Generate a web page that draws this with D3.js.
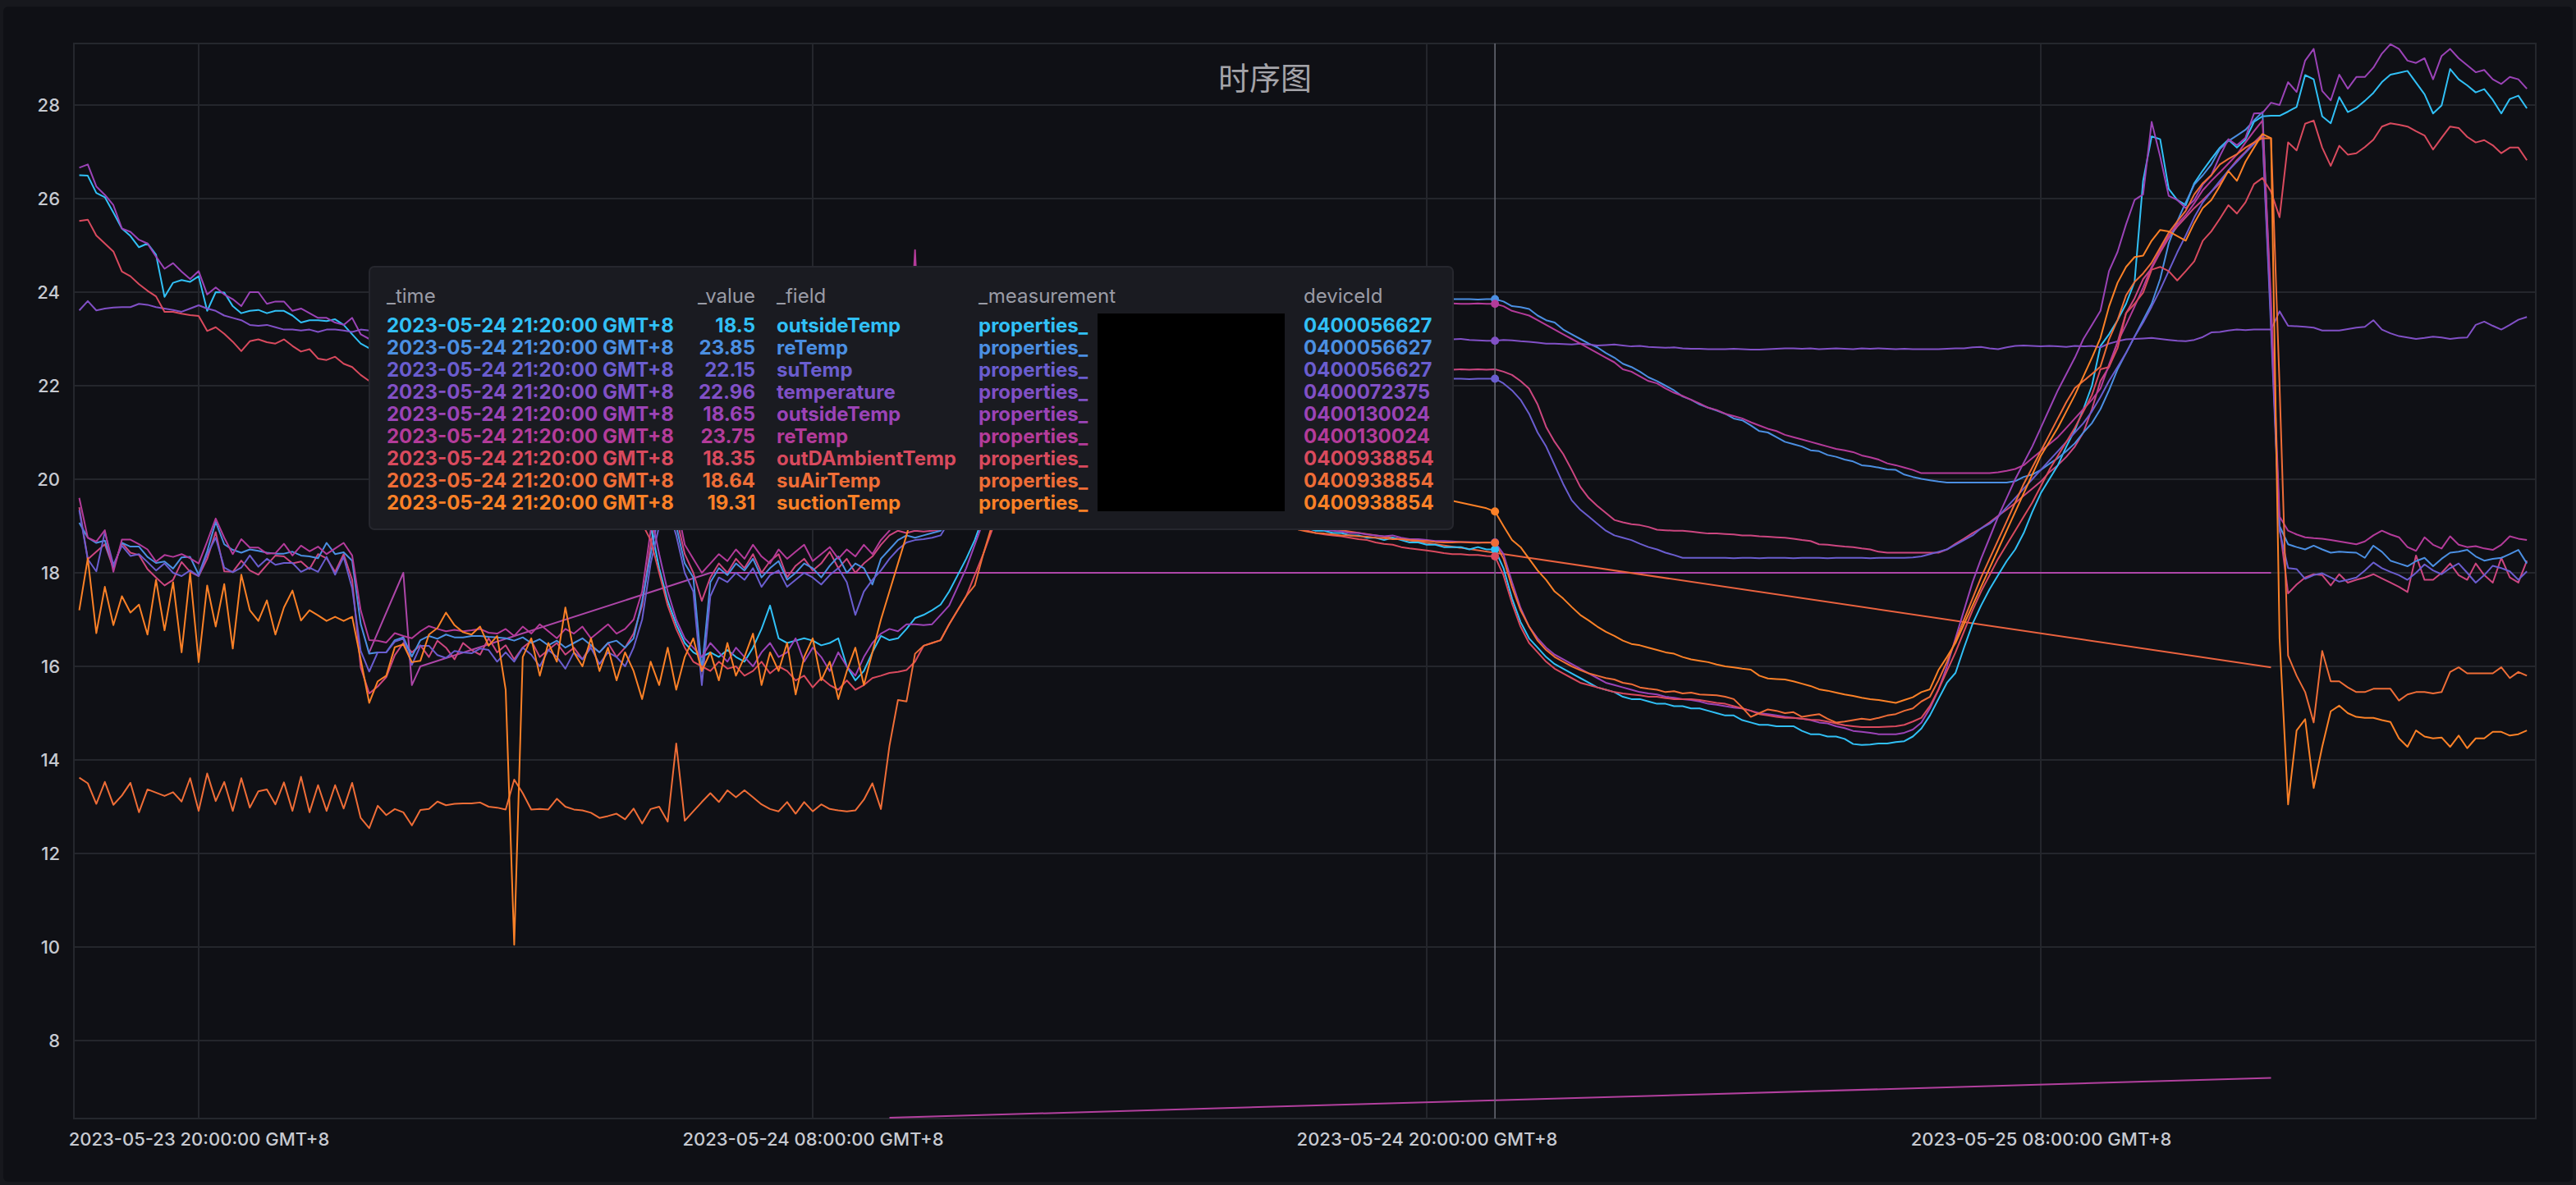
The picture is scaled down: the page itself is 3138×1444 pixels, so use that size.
<!DOCTYPE html>
<html><head><meta charset="utf-8">
<script src="https://cdn.jsdelivr.net/npm/d3@7"></script>
<style>
html,body{margin:0;padding:0;background:#17181d;}
svg{display:block}
</style></head><body>
<svg id="chart" width="3138" height="1444"></svg>
<script>
// ---------- data ----------
const chartTitle = "时序图";
const startTime = "2023-05-23T17:40:00+08:00";
const stepMinutes = 10;
const pointCount = 288;
const yTicks = [8, 10, 12, 14, 16, 18, 20, 22, 24, 26, 28];
const xTickTimes = ["2023-05-23T20:00:00+08:00", "2023-05-24T08:00:00+08:00", "2023-05-24T20:00:00+08:00", "2023-05-25T08:00:00+08:00"];
const xTickLabels = ["2023-05-23 20:00:00 GMT+8", "2023-05-24 08:00:00 GMT+8", "2023-05-24 20:00:00 GMT+8", "2023-05-25 08:00:00 GMT+8"];
const hoverIndex = 166;

// outsideTemp 0400056627
const outsideTemp_56627 = [
26.5,26.49,26.12,26.03,25.7,25.36,25.2,24.96,25.04,24.8,23.9,24.2,24.26,24.22,24.34,23.6,24.0,23.99,23.7,23.55,23.6,23.62,23.55,23.6,23.6,23.5,23.35,23.4,23.4,23.38,23.42,23.3,23.1,22.9,
22.8,22.75,22.6,22.55,22.4,22.35,22.2,22.15,22.0,21.9,21.85,21.7,21.6,21.55,21.4,21.3,21.25,21.1,21.0,20.95,20.8,20.7,20.65,20.5,20.45,20.3,20.2,20.15,20.0,19.95,19.8,19.7,19.6,
19.0,18.1,17.4,16.9,16.5,16.3,16.2,16.3,16.2,16.35,16.2,16.1,16.4,16.8,17.3,16.6,16.5,16.55,16.6,16.55,16.45,16.5,16.6,16.0,15.7,15.9,16.3,16.65,16.56,
16.6,16.8,17.03,17.1,17.2,17.32,17.6,17.95,18.3,18.7,19.2,19.7,20.2,20.6,21.0,21.3,21.6,21.9,22.1,22.3,22.5,22.6,22.8,22.9,23.0,23.1,23.1,23.2,23.1,23.0,22.9,22.8,22.6,22.4,22.2,22.0,21.8,21.5,21.2,20.9,20.6,20.3,20.0,19.8,19.6,19.4,19.2,19.05,18.95,18.9,18.9,18.85,18.85,18.8,18.8,18.75,18.75,18.7,18.75,18.7,18.65,18.65,18.6,18.6,18.55,
18.55,18.55,18.5,18.55,18.5,18.5,18.1,17.45,16.95,16.6,16.4,16.2,16.05,15.95,15.85,15.75,15.65,15.55,15.5,15.45,15.35,15.3,15.3,15.25,15.2,15.2,15.15,15.15,15.1,15.1,15.05,
15.0,14.95,14.95,14.85,14.8,14.75,14.75,14.72,14.72,14.72,14.62,14.55,14.55,14.5,14.5,14.45,14.34,14.32,14.33,14.35,14.35,14.38,14.4,14.5,14.67,14.95,
15.3,15.65,15.86,16.4,16.91,17.3,17.65,17.95,18.25,18.5,18.85,19.3,19.7,20.0,20.3,20.7,21.05,21.5,22.0,22.85,23.1,23.4,23.75,24.22,26.38,27.33,27.27,26.21,25.97,25.86,26.33,26.6,26.85,27.09,27.26,27.09,27.26,27.64,27.76,
27.77,27.77,27.86,27.96,28.64,28.55,27.76,27.61,28.17,27.85,27.94,28.09,28.26,28.49,28.65,28.69,28.73,28.48,28.23,27.82,27.99,28.77,28.55,28.42,28.27,28.34,28.11,27.82,28.13,28.2,27.93
];
// reTemp 0400056627
const reTemp_56627 = [
19.07,18.75,18.64,18.69,18.11,18.64,18.56,18.56,18.34,18.21,18.24,18.09,18.33,18.34,17.96,18.46,19.09,18.61,18.49,18.43,18.5,18.47,18.43,18.41,18.41,18.45,18.37,18.35,18.31,18.64,18.4,18.44,18.26,16.91,
16.27,16.3,16.3,16.56,16.62,16.21,16.56,16.65,16.59,16.68,16.62,16.62,16.65,16.65,16.63,16.62,16.6,16.55,16.62,16.5,16.58,16.45,16.55,16.4,16.5,16.6,16.45,16.3,16.5,16.55,16.4,16.6,17.4,
18.4,19.3,19.6,19.0,18.2,17.9,15.9,17.8,18.1,17.95,18.2,18.05,18.3,17.9,18.1,18.25,17.85,18.0,18.2,18.1,17.9,18.15,18.35,18.0,18.2,18.1,17.75,18.3,18.5,
18.7,18.8,18.75,18.8,18.85,18.9,19.2,19.7,20.3,20.9,21.5,22.0,22.4,22.7,23.0,23.2,23.4,23.5,23.6,23.7,23.75,23.8,23.85,23.9,23.92,23.95,23.97,24.0,24.0,24.02,24.0,24.03,24.05,24.03,24.05,24.02,24.0,24.02,23.98,24.0,23.97,23.98,23.95,23.97,23.94,23.95,23.92,23.93,23.9,23.92,23.9,23.91,23.88,23.9,23.88,23.89,23.87,23.88,23.86,23.87,23.85,23.86,23.85,23.86,23.85,
23.85,23.85,23.85,23.84,23.85,23.85,23.8,23.7,23.68,23.64,23.5,23.4,23.35,23.2,23.1,23.0,22.9,22.82,22.7,22.6,22.47,22.4,22.3,22.18,22.1,22.0,21.9,21.77,21.7,21.6,21.53,
21.47,21.4,21.3,21.26,21.15,21.03,21.0,20.9,20.8,20.75,20.7,20.62,20.6,20.52,20.48,20.42,20.38,20.3,20.28,20.25,20.21,20.2,20.1,20.05,20.01,19.98,
19.95,19.93,19.93,19.93,19.93,19.93,19.93,19.93,19.93,19.96,20.05,20.1,20.2,20.33,20.45,20.6,20.77,21.0,21.2,21.5,21.9,22.35,22.7,23.05,23.4,23.75,24.28,25.04,25.51,25.92,26.3,26.5,26.73,27.06,27.23,27.35,27.47,27.67,27.85,
23.5,19.0,18.61,18.55,18.5,18.58,18.5,18.43,18.45,18.44,18.43,18.32,18.58,18.45,18.26,18.2,18.14,18.25,18.32,18.14,18.3,18.43,18.45,18.49,18.35,18.26,18.3,18.32,18.4,18.49,18.2
];
// suTemp 0400056627
const suTemp_56627 = [
19.34,18.29,18.03,18.87,18.17,18.58,18.36,18.4,18.23,18.05,18.2,18.0,17.93,18.05,17.93,18.4,18.75,18.11,18.01,18.11,18.37,18.13,18.3,18.17,18.21,18.21,18.02,18.11,18.02,18.34,17.96,18.34,17.67,16.33,
15.89,16.3,16.3,16.53,16.59,16.03,16.44,16.44,16.24,16.18,16.33,16.3,16.28,16.38,16.35,16.1,16.3,16.1,16.4,16.25,16.0,16.35,16.2,15.95,16.3,16.15,16.4,16.05,16.3,16.2,16.0,16.4,17.0,
18.2,19.0,19.4,18.8,18.0,17.6,15.6,17.5,17.9,17.8,18.0,17.85,18.1,17.7,17.95,18.05,17.7,17.85,18.0,17.9,17.75,17.95,18.1,17.8,17.1,17.6,17.85,18.05,18.3,
18.5,18.65,18.7,18.72,18.75,18.8,19.1,19.6,20.1,20.6,21.0,21.3,21.55,21.75,21.9,22.0,22.1,22.15,22.2,22.22,22.25,22.27,22.28,22.3,22.28,22.3,22.27,22.28,22.26,22.27,22.25,22.26,22.24,22.25,22.23,22.24,22.22,22.23,22.21,22.22,22.2,22.21,22.19,22.2,22.18,22.19,22.17,22.18,22.17,22.16,22.17,22.16,22.15,22.16,22.15,22.16,22.15,22.14,22.15,22.15,22.14,22.15,22.15,22.14,22.15,
22.15,22.15,22.14,22.15,22.15,22.15,22.05,21.9,21.7,21.4,21.0,20.7,20.3,19.9,19.55,19.35,19.2,19.05,18.9,18.8,18.75,18.7,18.62,18.55,18.5,18.43,18.38,18.32,18.32,18.32,18.32,
18.32,18.32,18.31,18.32,18.32,18.31,18.32,18.32,18.32,18.31,18.32,18.32,18.32,18.31,18.32,18.32,18.32,18.32,18.31,18.32,18.32,18.32,18.32,18.33,18.35,18.4,
18.45,18.5,18.6,18.7,18.8,18.95,19.05,19.2,19.4,19.6,19.8,20.0,20.2,20.4,20.6,20.8,21.0,21.2,21.45,21.76,22.1,22.4,22.7,23.05,23.35,23.69,24.05,24.45,24.85,25.21,25.6,25.92,26.15,26.38,26.6,26.79,26.98,27.17,27.35,
23.2,18.9,18.1,18.08,17.87,17.95,17.99,17.9,17.81,17.85,17.9,18.05,18.22,18.1,18.02,17.95,17.85,18.0,18.18,18.05,17.97,18.1,18.2,18.0,17.79,17.95,18.15,18.1,18.03,17.85,18.03
];
// temperature 0400072375
const temperature_72375 = [
23.61,23.81,23.61,23.65,23.67,23.68,23.68,23.75,23.73,23.68,23.65,23.62,23.58,23.65,23.72,23.65,23.6,23.5,23.45,23.4,23.3,23.28,23.3,23.25,23.2,23.2,23.18,23.2,23.15,23.2,23.2,23.18,23.15,23.2,
23.18,23.15,23.2,23.17,23.12,23.15,23.1,23.08,23.1,23.05,23.07,23.02,23.05,23.0,23.03,22.98,23.0,22.97,22.95,22.98,22.94,22.96,22.92,22.95,22.9,22.93,22.9,22.88,22.92,22.9,22.87,22.9,22.88,
22.9,22.87,22.85,22.88,22.84,22.86,22.83,22.85,22.82,22.84,22.8,22.83,22.81,22.8,22.82,22.79,22.81,22.8,22.78,22.8,22.82,22.79,22.81,22.8,22.83,22.85,22.88,22.9,22.95,
23.0,23.05,23.1,23.12,23.15,23.2,23.22,23.25,23.3,23.28,23.32,23.35,23.33,23.36,23.38,23.35,23.37,23.4,23.38,23.36,23.35,23.33,23.3,23.32,23.28,23.25,23.27,23.22,23.2,23.22,23.18,23.15,23.17,23.12,23.1,23.12,23.08,23.05,23.07,23.03,23.0,23.02,22.98,23.0,22.97,22.99,22.96,22.98,22.95,22.97,22.96,22.98,22.97,22.99,23.0,22.98,23.0,22.99,23.01,23.0,22.99,23.0,22.98,22.99,23.0,
22.99,23.0,22.98,22.97,22.96,22.96,22.98,22.97,22.95,22.94,22.92,22.9,22.9,22.89,22.88,22.9,22.88,22.86,22.87,22.88,22.86,22.84,22.85,22.83,22.82,22.81,22.82,22.8,22.79,22.79,22.78,
22.78,22.78,22.79,22.78,22.77,22.77,22.78,22.79,22.8,22.8,22.79,22.8,22.78,22.79,22.8,22.79,22.78,22.8,22.79,22.8,22.79,22.78,22.79,22.78,22.78,22.78,
22.78,22.79,22.8,22.8,22.82,22.83,22.8,22.78,22.82,22.85,22.86,22.85,22.84,22.85,22.84,22.83,22.85,22.84,22.85,22.82,22.9,22.95,22.99,23.0,23.01,23.02,23.0,22.98,22.96,22.95,22.98,23.04,23.14,23.15,23.18,23.2,23.19,23.2,23.2,
23.2,23.59,23.28,23.27,23.26,23.24,23.18,23.18,23.18,23.21,23.24,23.26,23.4,23.2,23.12,23.06,23.03,23.0,23.02,23.05,23.03,23.0,23.02,23.03,23.3,23.37,23.28,23.2,23.3,23.41,23.47
];
// outsideTemp 0400130024
const outsideTemp_130024 = [
26.66,26.73,26.26,26.08,25.86,25.36,25.29,25.12,25.04,24.76,24.5,24.62,24.44,24.28,24.45,23.95,24.1,23.95,23.85,23.7,24.0,24.0,23.75,23.8,23.8,23.6,23.65,23.55,23.45,23.45,23.35,23.3,23.45,23.1,
23.0,22.9,22.85,22.7,22.6,22.55,22.4,22.3,22.25,22.1,22.0,21.95,21.8,21.7,21.65,21.5,21.4,21.35,21.2,21.1,21.05,20.9,20.8,20.75,20.6,20.5,20.45,20.3,20.2,20.15,20.0,19.9,19.85,
19.3,18.4,17.6,17.0,16.6,16.4,16.2,16.5,16.3,16.1,16.4,16.2,16.0,16.3,16.5,16.2,16.3,16.6,16.1,16.4,16.2,15.9,16.3,16.0,15.8,16.2,16.5,16.7,16.8,
16.75,16.9,16.9,16.88,16.9,17.1,17.3,17.7,18.1,18.6,19.1,19.6,20.1,20.5,20.9,21.2,21.5,21.8,22.0,22.2,22.4,22.5,22.7,22.8,22.9,23.0,23.0,23.1,23.0,22.9,22.8,22.7,22.5,22.3,22.1,21.9,21.7,21.4,21.1,20.8,20.5,20.2,19.9,19.7,19.5,19.3,19.15,19.05,18.98,18.95,18.92,18.9,18.88,18.85,18.85,18.82,18.8,18.78,18.8,18.75,18.72,18.72,18.7,18.68,18.68,
18.67,18.66,18.66,18.65,18.65,18.65,18.4,17.8,17.25,16.85,16.6,16.4,16.25,16.15,16.05,15.95,15.85,15.75,15.65,15.6,15.55,15.5,15.45,15.42,15.4,15.35,15.33,15.3,15.28,15.25,15.2,
15.18,15.15,15.12,15.1,15.05,15.0,14.98,14.95,14.92,14.9,14.88,14.85,14.8,14.78,14.72,14.68,14.62,14.6,14.58,14.55,14.55,14.55,14.58,14.65,14.8,15.1,
15.5,16.0,16.6,17.2,17.8,18.3,18.75,19.2,19.6,20.0,20.35,20.7,21.1,21.5,21.9,22.25,22.6,23.0,23.3,23.6,24.45,24.86,25.45,25.97,26.09,27.64,26.9,26.06,25.97,25.8,25.97,26.3,26.5,26.91,27.27,27.14,27.3,27.82,27.83,
28.05,28.0,28.49,28.28,28.95,29.2,28.3,28.1,28.65,28.35,28.6,28.6,28.8,29.1,29.3,29.2,28.95,28.9,29.0,28.55,29.05,29.2,29.0,28.85,28.7,28.75,28.55,28.45,28.6,28.55,28.35
];
// reTemp 0400130024
const reTemp_130024 = [
19.6,18.75,18.67,18.91,18.02,18.71,18.71,18.61,18.5,18.24,18.38,18.34,18.4,18.31,18.2,18.67,19.16,18.75,18.4,18.72,18.54,18.54,18.41,18.42,18.62,18.37,18.58,18.46,18.56,18.4,18.52,18.64,18.37,17.2,
16.56,16.55,16.51,16.71,16.65,16.6,16.75,16.86,16.8,16.75,16.78,16.75,16.77,16.8,16.72,16.7,16.8,16.65,16.85,16.7,16.9,16.75,16.6,16.8,16.7,16.85,16.6,16.75,16.9,16.7,16.8,17.0,17.6,
18.9,19.8,20.1,19.5,18.6,18.3,18.0,18.2,18.4,18.25,18.5,18.3,18.6,18.35,18.2,18.5,18.3,18.45,18.6,18.25,18.4,18.55,18.3,18.5,18.35,18.6,18.4,18.7,18.9,
19.5,21.5,24.9,21.0,20.6,20.5,20.8,21.2,21.6,22.0,22.4,22.7,23.0,23.2,23.4,23.5,23.6,23.65,23.7,23.75,23.78,23.8,23.82,23.85,23.87,23.88,23.9,23.9,23.92,23.9,23.91,23.9,23.88,23.9,23.87,23.88,23.86,23.85,23.86,23.84,23.85,23.83,23.84,23.82,23.83,23.81,23.8,23.81,23.79,23.8,23.78,23.79,23.77,23.78,23.76,23.77,23.76,23.75,23.76,23.75,23.76,23.75,23.76,23.75,23.76,
23.76,23.75,23.75,23.76,23.75,23.75,23.7,23.6,23.55,23.5,23.4,23.3,23.2,23.1,23.0,22.9,22.8,22.7,22.6,22.5,22.35,22.3,22.2,22.1,22.05,21.94,21.85,21.78,21.7,21.62,21.53,
21.48,21.4,21.35,21.3,21.22,21.15,21.08,21.03,20.95,20.9,20.85,20.8,20.75,20.7,20.65,20.62,20.58,20.51,20.47,20.42,20.34,20.3,20.25,20.2,20.13,20.13,
20.13,20.13,20.13,20.13,20.13,20.13,20.13,20.15,20.18,20.22,20.3,20.45,20.6,20.75,20.9,21.1,21.3,21.5,21.7,21.94,22.45,22.93,23.3,23.69,24.1,24.54,24.9,25.21,25.45,25.65,25.9,26.18,26.38,26.56,26.75,26.94,27.2,27.44,27.67,
23.8,19.2,18.9,18.82,18.76,18.74,18.73,18.7,18.67,18.64,18.61,18.67,18.8,18.9,18.82,18.76,18.55,18.47,18.76,18.6,18.52,18.78,18.6,18.55,18.57,18.52,18.49,18.6,18.78,18.73,18.7
];
// outDAmbientTemp 0400938854
const outDAmbientTemp_938854 = [
25.52,25.55,25.21,25.04,24.87,24.44,24.34,24.17,24.03,23.91,23.58,23.58,23.54,23.51,23.49,23.17,23.25,23.11,22.94,22.74,22.95,22.99,22.93,22.9,22.99,22.85,22.73,22.78,22.58,22.55,22.62,22.47,22.4,22.23,
22.1,22.0,21.9,21.85,21.7,21.6,21.55,21.4,21.3,21.25,21.1,21.0,20.95,20.8,20.7,20.65,20.5,20.4,20.35,20.2,20.1,20.05,19.9,19.8,19.75,19.6,19.5,19.45,19.3,19.2,19.15,19.1,19.05,
18.7,18.0,17.3,16.8,16.4,16.1,16.0,15.9,16.1,15.95,16.0,15.8,15.9,16.1,15.85,16.0,15.9,15.7,15.8,15.55,15.75,15.6,15.5,15.7,15.5,15.6,15.75,15.8,15.86,
15.88,15.92,16.1,16.44,16.5,16.56,16.9,17.2,17.5,17.95,18.4,18.9,19.4,19.9,20.3,20.7,21.0,21.3,21.5,21.7,21.9,22.0,22.1,22.2,22.3,22.35,22.4,22.4,22.35,22.3,22.2,22.05,21.9,21.7,21.5,21.3,21.1,20.85,20.6,20.35,20.1,19.9,19.7,19.5,19.35,19.2,19.05,18.95,18.9,18.85,18.82,18.8,18.78,18.75,18.72,18.7,18.65,18.62,18.6,18.55,18.52,18.5,18.48,18.45,18.42,
18.4,18.4,18.38,18.38,18.36,18.35,17.95,17.35,16.85,16.5,16.3,16.1,15.95,15.85,15.75,15.65,15.6,15.55,15.5,15.45,15.42,15.4,15.38,15.35,15.35,15.32,15.3,15.3,15.3,15.28,15.25,
15.22,15.2,15.15,15.1,15.05,14.98,14.95,14.92,14.9,14.9,14.88,14.86,14.85,14.82,14.78,14.74,14.72,14.7,14.7,14.7,14.71,14.72,14.75,14.82,14.9,15.15,
15.5,15.9,16.3,16.75,17.2,17.6,17.95,18.3,18.6,18.9,19.2,19.5,19.85,20.2,20.5,20.8,21.1,21.45,21.8,22.35,22.4,22.8,23.55,23.75,23.99,24.48,24.54,24.45,24.25,24.45,24.66,25.1,25.3,25.57,25.86,25.68,25.92,26.31,26.44,
26.15,25.6,27.2,27.03,27.6,27.67,27.09,26.7,27.13,26.94,26.97,27.1,27.26,27.54,27.61,27.58,27.54,27.44,27.35,27.05,27.3,27.54,27.51,27.32,27.2,27.25,27.14,26.97,27.09,27.09,26.82
];
// suAirTemp 0400938854
const suAirTemp_938854 = [
13.62,13.5,13.06,13.53,13.04,13.24,13.51,12.88,13.37,13.3,13.23,13.31,13.11,13.61,12.91,13.71,13.12,13.53,12.91,13.61,12.98,13.33,13.37,13.05,13.52,12.91,13.64,12.88,13.46,12.91,13.46,12.96,13.51,12.76,
12.54,13.02,12.82,12.95,12.88,12.6,12.93,12.95,13.11,13.03,13.06,13.07,13.07,13.09,13.0,12.98,12.94,13.58,13.29,12.94,12.95,12.94,13.17,13.0,12.94,12.92,12.87,12.76,12.8,12.85,12.73,12.96,12.64,
12.95,13.0,12.68,14.35,12.7,12.9,13.1,13.29,13.1,13.35,13.2,13.35,13.2,13.05,12.95,12.9,13.1,12.85,13.1,12.9,13.05,12.95,12.92,12.9,12.92,13.15,13.5,12.95,14.3,
15.28,15.25,16.27,16.44,16.5,16.56,16.9,17.2,17.5,17.73,18.4,19.0,19.6,20.1,20.5,20.85,21.1,21.35,21.5,21.65,21.8,21.9,22.0,22.05,22.1,22.1,22.12,22.1,22.05,22.0,21.9,21.8,21.65,21.5,21.3,21.1,20.9,20.7,20.45,20.2,20.0,19.8,19.6,19.4,19.25,19.12,19.0,18.92,18.88,18.85,18.84,18.82,18.8,18.8,18.78,18.77,18.75,18.74,18.72,18.72,18.7,18.69,18.68,18.66,18.65,
18.65,18.66,18.65,18.64,18.65,18.64,18.3,17.7,17.2,16.85,16.55,16.35,16.2,16.1,16.0,15.92,15.85,15.8,15.75,15.72,15.65,15.62,15.55,15.52,15.5,15.45,15.47,15.42,15.44,15.4,15.39,
15.38,15.35,15.3,15.12,14.92,15.0,15.08,15.05,15.0,15.02,14.92,14.95,14.98,14.88,14.8,14.82,14.85,14.88,14.86,14.9,14.95,14.98,15.05,15.1,15.25,15.35,
15.7,16.1,16.55,17.0,17.45,17.9,18.3,18.7,19.1,19.5,19.9,20.25,20.6,20.95,21.3,21.65,21.95,22.1,22.25,22.41,22.99,23.4,23.93,24.22,24.4,24.63,24.95,25.27,25.51,25.74,26.09,26.33,26.5,26.73,26.85,26.95,27.09,27.2,27.29,
27.29,22.0,16.23,15.8,15.45,14.8,16.33,15.68,15.68,15.55,15.45,15.45,15.52,15.52,15.52,15.27,15.4,15.45,15.45,15.42,15.45,15.88,15.98,15.85,15.85,15.85,15.85,15.98,15.75,15.88,15.8
];
// suctionTemp 0400938854
const suctionTemp_938854 = [
17.2,18.31,16.71,17.7,16.88,17.5,17.15,17.32,16.68,17.85,16.77,17.8,16.3,17.99,16.09,17.73,16.85,17.76,16.38,17.96,17.2,16.97,17.41,16.68,17.26,17.62,16.98,17.2,17.09,16.97,17.06,16.97,17.06,16.15,
15.22,15.68,15.8,16.41,16.47,16.09,16.12,16.68,16.82,17.15,16.88,16.73,16.68,16.85,16.44,16.65,15.5,10.05,16.2,16.6,15.8,16.5,16.1,17.26,16.3,16.0,16.6,15.9,16.4,15.7,16.3,15.9,15.3,
16.1,15.6,16.4,15.5,16.2,16.6,15.9,16.3,15.7,16.5,15.8,16.2,16.7,15.6,16.3,15.9,16.5,15.4,16.2,16.6,15.7,16.1,15.3,15.9,16.4,15.6,16.3,17.0,17.6,
18.2,18.8,19.5,20.1,20.5,20.8,21.0,21.1,21.2,21.15,21.1,21.0,20.9,20.8,20.7,20.6,20.5,20.45,20.4,20.35,20.3,20.25,20.2,20.15,20.1,20.05,20.0,19.98,19.95,19.93,19.9,19.88,19.86,19.84,19.82,19.8,19.78,19.77,19.75,19.74,19.73,19.72,19.7,19.69,19.68,19.67,19.66,19.65,19.64,19.63,19.62,19.62,19.61,19.6,19.6,19.59,19.58,19.58,19.57,19.56,19.56,19.55,19.55,19.54,19.54,
19.54,19.5,19.46,19.42,19.38,19.31,19.0,18.7,18.55,18.3,18.05,17.85,17.6,17.45,17.27,17.1,16.98,16.85,16.74,16.65,16.55,16.48,16.45,16.4,16.35,16.3,16.27,16.2,16.15,16.12,16.09,
16.04,16.0,15.98,15.95,15.93,15.8,15.74,15.73,15.72,15.68,15.63,15.58,15.51,15.48,15.44,15.4,15.37,15.33,15.3,15.28,15.25,15.22,15.28,15.34,15.45,15.51,
15.92,16.2,16.5,16.9,17.3,17.7,18.1,18.5,18.9,19.3,19.7,20.1,20.5,20.8,21.1,21.45,21.8,22.2,22.6,23.02,23.69,24.2,24.54,24.75,24.78,25.1,25.33,25.3,25.2,25.1,25.48,25.8,25.97,26.27,26.59,26.38,26.79,27.09,27.38,
27.29,16.6,13.05,14.63,14.87,13.4,14.28,15.04,15.16,15.0,14.92,14.9,14.9,14.85,14.81,14.46,14.28,14.63,14.5,14.46,14.48,14.28,14.52,14.25,14.46,14.46,14.6,14.6,14.52,14.55,14.63
];
// additional series visible in the plot (not in the hover list)
const extraPink = [
19.4,18.29,18.45,18.61,18.1,18.64,18.43,18.38,18.08,17.9,17.73,17.85,18.23,18.02,17.93,18.3,18.87,18.03,18.02,18.26,18.05,17.96,18.17,18.37,18.35,18.2,18.24,18.08,18.4,18.31,18.02,18.4,17.85,15.98,
15.42,15.57,15.77,16.24,16.5,16.3,16.45,16.2,16.55,16.4,16.15,16.5,16.35,16.25,16.6,16.3,16.45,16.15,16.4,16.55,16.2,16.35,16.5,16.25,16.4,16.15,16.45,16.3,16.5,16.2,16.4,16.7,17.3,
18.6,19.5,19.9,19.2,18.4,18.0,17.4,17.9,18.2,18.0,18.3,18.1,18.4,18.0,18.25,18.4,17.9,18.15,18.3,18.05,18.2,18.45,18.1,18.3,18.0,18.2,18.35,18.6,18.8,
18.9,18.85,18.9,18.88,18.9,18.92,19.3,19.8,20.3,20.8,21.2,21.5,21.75,21.95,22.1,22.2,22.28,22.33,22.38,22.4,22.42,22.44,22.45,22.46,22.45,22.46,22.44,22.45,22.43,22.44,22.42,22.43,22.41,22.42,22.4,22.41,22.39,22.4,22.38,22.39,22.38,22.37,22.38,22.37,22.36,22.37,22.36,22.35,22.36,22.35,22.36,22.35,22.34,22.35,22.35,22.34,22.35,22.35,22.34,22.35,22.35,22.34,22.35,22.35,22.34,
22.34,22.35,22.34,22.35,22.34,22.35,22.3,22.23,22.1,21.94,21.6,21.12,20.8,20.54,20.2,19.84,19.6,19.43,19.28,19.13,19.08,19.04,19.02,18.98,18.92,18.91,18.9,18.9,18.88,18.86,18.84,
18.84,18.83,18.82,18.8,18.8,18.78,18.77,18.76,18.75,18.73,18.7,18.68,18.61,18.6,18.58,18.56,18.55,18.52,18.5,18.45,18.43,18.43,18.43,18.43,18.43,18.43,
18.43,18.5,18.62,18.73,18.85,18.95,19.08,19.22,19.35,19.49,19.65,19.8,19.95,20.15,20.3,20.48,20.7,21.0,21.5,22.1,22.4,22.93,23.55,23.87,24.28,24.51,24.85,25.16,25.4,25.6,25.8,25.97,26.15,26.33,26.6,26.82,27.0,27.2,27.38,
23.4,19.0,17.56,17.75,17.9,17.97,17.95,17.73,17.97,17.79,17.85,17.9,17.97,17.88,17.79,17.7,17.59,18.37,17.85,17.85,18.0,18.2,17.95,17.85,18.2,17.95,17.79,18.32,17.9,17.79,18.26
];
const sparseSetIdx = [34, 38, 39, 40, 74, 257];
const sparseSetVal = [16.3, 18.0, 15.6, 16.0, 18.0, 18.0];
const sparseOrangeIdx = [100, 257];
const sparseOrangeVal = [20.2, 15.98];
const sparseLowIdx = [95, 257];
const sparseLowVal = [6.35, 7.2];

// tooltip table
const tooltipTime = "2023-05-24 21:20:00 GMT+8";
const tooltipValues = ["18.5", "23.85", "22.15", "22.96", "18.65", "23.75", "18.35", "18.64", "19.31"];
const tooltipFields = ["outsideTemp", "reTemp", "suTemp", "temperature", "outsideTemp", "reTemp", "outDAmbientTemp", "suAirTemp", "suctionTemp"];
const tooltipDevices = ["0400056627", "0400056627", "0400056627", "0400072375", "0400130024", "0400130024", "0400938854", "0400938854", "0400938854"];
const tooltipMeasurement = "properties_";
const tooltipHeaders = ["_time", "_value", "_field", "_measurement", "deviceId"];
const seriesColors = ["#31c0f6", "#4b8fe2", "#6a5dcf", "#8150c6", "#9b43b7", "#b43b9a", "#d94a5e", "#ef6d37", "#fc8127"];

// ---------- drawing ----------
const mainSeries = [outsideTemp_56627, reTemp_56627, suTemp_56627, temperature_72375, outsideTemp_130024, reTemp_130024, outDAmbientTemp_938854, suAirTemp_938854, suctionTemp_938854];
mainSeries.concat([extraPink]).forEach((s, k) => { if (s.length !== pointCount) throw new Error("series " + k + " has " + s.length); });

const W = 3138, H = 1444;
const plot = {left: 90, right: 3089, top: 53, bottom: 1363};
const svg = d3.select("#chart");
const t0 = new Date(startTime).getTime();
const timeAt = i => new Date(t0 + i * stepMinutes * 60000);

const x = d3.scaleTime()
  .domain([new Date(xTickTimes[0]), new Date(xTickTimes[3])])
  .range([242, 2486]);
const y = d3.scaleLinear().domain([8, 28]).range([1268, 128]);

svg.append("rect").attr("x", 0).attr("y", 0).attr("width", W).attr("height", H).attr("fill", "#17181d");
svg.append("rect").attr("x", 4).attr("y", 8).attr("width", W - 8).attr("height", H - 12).attr("rx", 6).attr("fill", "#0f1015");

// grid
const grid = svg.append("g");
yTicks.forEach(v => grid.append("line").attr("x1", plot.left).attr("x2", plot.right).attr("y1", y(v)).attr("y2", y(v)).attr("stroke", "#24262c").attr("stroke-width", 2));
xTickTimes.forEach(t => grid.append("line").attr("x1", x(new Date(t))).attr("x2", x(new Date(t))).attr("y1", plot.top).attr("y2", plot.bottom).attr("stroke", "#24262c").attr("stroke-width", 2));
grid.append("rect").attr("x", plot.left).attr("y", plot.top).attr("width", plot.right - plot.left).attr("height", plot.bottom - plot.top).attr("fill", "none").attr("stroke", "#25272d").attr("stroke-width", 2);

// axis labels
const yAxis = d3.axisLeft(y).tickValues(yTicks).tickSize(0).tickPadding(0);
const ya = svg.append("g").attr("transform", "translate(73,0)").call(yAxis);
ya.select(".domain").remove();
ya.selectAll("text").attr("fill", "#c7cad1").attr("font-family", "Inter, 'Open Sans', sans-serif").attr("font-size", 22).attr("font-weight", 500);

const xAxis = d3.axisBottom(x).tickValues(xTickTimes.map(t => new Date(t))).tickFormat((d, i) => xTickLabels[i]).tickSize(0).tickPadding(0);
const xa = svg.append("g").attr("transform", "translate(0,1380)").call(xAxis);
xa.select(".domain").remove();
xa.selectAll("text").attr("fill", "#c7cad1").attr("font-family", "Inter, 'Open Sans', sans-serif").attr("font-size", 22).attr("font-weight", 500);

// title
svg.append("text").attr("x", 1541).attr("y", 92).attr("text-anchor", "middle").attr("dominant-baseline", "central")
  .attr("font-family", "'Noto Sans CJK SC', sans-serif").attr("font-size", 38).attr("fill", "#a4a4a9").text(chartTitle);

// lines
svg.append("clipPath").attr("id", "plotclip").append("rect").attr("x", plot.left).attr("y", plot.top).attr("width", plot.right - plot.left).attr("height", plot.bottom - plot.top);
const lines = svg.append("g").attr("clip-path", "url(#plotclip)");
const line = d3.line().x(d => x(d.t)).y(d => y(d.v));
function drawSeries(idx, vals, color) {
  const pts = idx.map((ii, k) => ({t: timeAt(ii), v: vals[k]})).filter(d => d.v != null);
  lines.append("path").attr("d", line(pts)).attr("fill", "none").attr("stroke", color).attr("stroke-width", 2).attr("stroke-linejoin", "round");
}
const fullIdx = d3.range(pointCount);
drawSeries(sparseLowIdx, sparseLowVal, "#b2409e");
drawSeries(sparseSetIdx, sparseSetVal, "#ad46a8");
drawSeries(sparseOrangeIdx, sparseOrangeVal, "#ea623f");
drawSeries(fullIdx, extraPink, "#cc4680");
mainSeries.forEach((s, k) => drawSeries(fullIdx, s, seriesColors[k]));

// hover line and points
const hx = x(timeAt(hoverIndex));
svg.append("line").attr("x1", hx).attr("x2", hx).attr("y1", plot.top).attr("y2", plot.bottom).attr("stroke", "#6b6e78").attr("stroke-width", 1.5);
mainSeries.forEach((s, k) => svg.append("circle").attr("cx", hx).attr("cy", y(+tooltipValues[k])).attr("r", 5).attr("fill", seriesColors[k]));

// tooltip
const tip = svg.append("g");
tip.append("rect").attr("x", 450).attr("y", 325).attr("width", 1320).attr("height", 320).attr("rx", 6)
  .attr("fill", "#1a1b21").attr("stroke", "#26272e").attr("stroke-width", 2);
const colX = {time: 471, value: 920, field: 946, meas: 1192, dev: 1588};
const font = "Inter, 'Open Sans', sans-serif";
const hdr = [[colX.time, "start"], [colX.value, "end"], [colX.field, "start"], [colX.meas, "start"], [colX.dev, "start"]];
tooltipHeaders.forEach((h, k) => tip.append("text").attr("x", hdr[k][0]).attr("y", 360).attr("text-anchor", hdr[k][1])
  .attr("dominant-baseline", "central").attr("font-family", font).attr("font-size", 24).attr("fill", "#9a9ca6").text(h));
tooltipValues.forEach((v, k) => {
  const yy = 396 + 27 * k;
  const g = tip.append("g").attr("font-family", font).attr("font-size", 24).attr("font-weight", 700).attr("fill", seriesColors[k]).attr("dominant-baseline", "central");
  g.append("text").attr("x", colX.time).attr("y", yy).text(tooltipTime);
  g.append("text").attr("x", colX.value).attr("y", yy).attr("text-anchor", "end").text(v);
  g.append("text").attr("x", colX.field).attr("y", yy).text(tooltipFields[k]);
  g.append("text").attr("x", colX.meas).attr("y", yy).text(tooltipMeasurement);
  g.append("text").attr("x", colX.dev).attr("y", yy).text(tooltipDevices[k]);
});
tip.append("rect").attr("x", 1337).attr("y", 382).attr("width", 228).attr("height", 241).attr("fill", "#000");
</script>
</body></html>
